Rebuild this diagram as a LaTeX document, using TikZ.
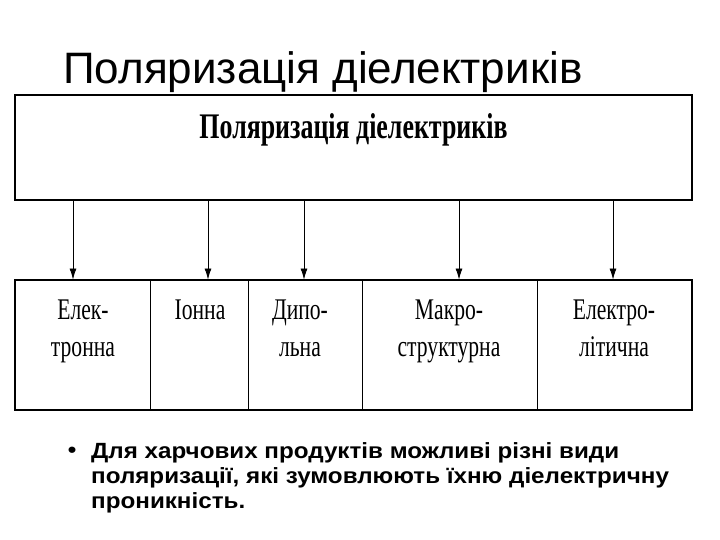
\documentclass[tikz,border=0pt]{standalone}
\usepackage{fontspec}
\setmainfont{Liberation Serif}
\newfontfamily\slidefont{Liberation Sans}
\newfontfamily\notefont[FakeStretch=1.10]{Liberation Sans}
\usetikzlibrary{arrows.meta}

% narrow serif, as in the scanned scheme
\newcommand\narrow[1]{\scalebox{0.72}[1]{#1}}

\tikzset{
  frame/.style={draw, line width=2pt},
  cell/.style={draw, line width=0.9pt, minimum height=130pt, inner sep=0pt},
  celltext/.style={anchor=north, align=center, inner sep=0pt,
    font=\fontsize{30}{37}\selectfont},
  arr/.style={-{Latex[length=11pt,width=7pt]}, line width=0.8pt}
}

\begin{document}
\begin{tikzpicture}[x=1pt,y=-1pt]
    \useasboundingbox (0,0) rectangle (720,540);
    % slide title
    \node[anchor=base west, inner sep=0pt, font=\slidefont\fontsize{44}{50}\selectfont]
      (title) at (63,83.3) {Поляризація діелектриків};
    % main box
    \node[frame, minimum width=677pt, minimum height=105pt, inner sep=0pt]
      (main) at (353.5,147.5) {};
    \node[anchor=base, inner sep=0pt, font=\bfseries\fontsize{36}{40}\selectfont]
      (mainlabel) at (353.5,139) {\narrow{Поляризація діелектриків}};
    % kinds of polarisation
    \node[cell, minimum width=135pt] (el) at (82.5,345) {};
    \node[cell, minimum width=98pt] (ion) at (199,345) {};
    \node[cell, minimum width=114pt] (dip) at (305,345) {};
    \node[cell, minimum width=175pt] (mak) at (449.5,345) {};
    \node[cell, minimum width=155pt] (ely) at (614.5,345) {};
    \draw[frame] (el.north west) rectangle (ely.south east);
    \node[celltext] (eltext) at (83,300) {\narrow{Елек-}\\\narrow{тронна}};
    \node[celltext] (iontext) at (200,300) {\narrow{Іонна}};
    \node[celltext] (diptext) at (300,300) {\narrow{Дипо-}\\\narrow{льна}};
    \node[celltext] (maktext) at (449,300) {\narrow{Макро-}\\\narrow{структурна}};
    \node[celltext] (elytext) at (614,300) {\narrow{Електро-}\\\narrow{літична}};
    % arrows
    \foreach \n/\x in {el/73,ion/208,dip/304,mak/459,ely/613}
      \draw[arr] (\x,0 |- main.south) -- (\x,0 |- \n.north);
    % note below
    \node[inner sep=0pt, font=\notefont\bfseries\fontsize{22}{25}\selectfont]
      (dot) at (72,452) {•};
    \node[anchor=north west, align=left, inner sep=0pt,
      font=\notefont\bfseries\fontsize{22}{25}\selectfont] (note) at (91,442)
      {Для харчових продуктів можливі різні види\\
       поляризації, які зумовлюють їхню діелектричну\\
       проникність.};
\end{tikzpicture}
\end{document}
